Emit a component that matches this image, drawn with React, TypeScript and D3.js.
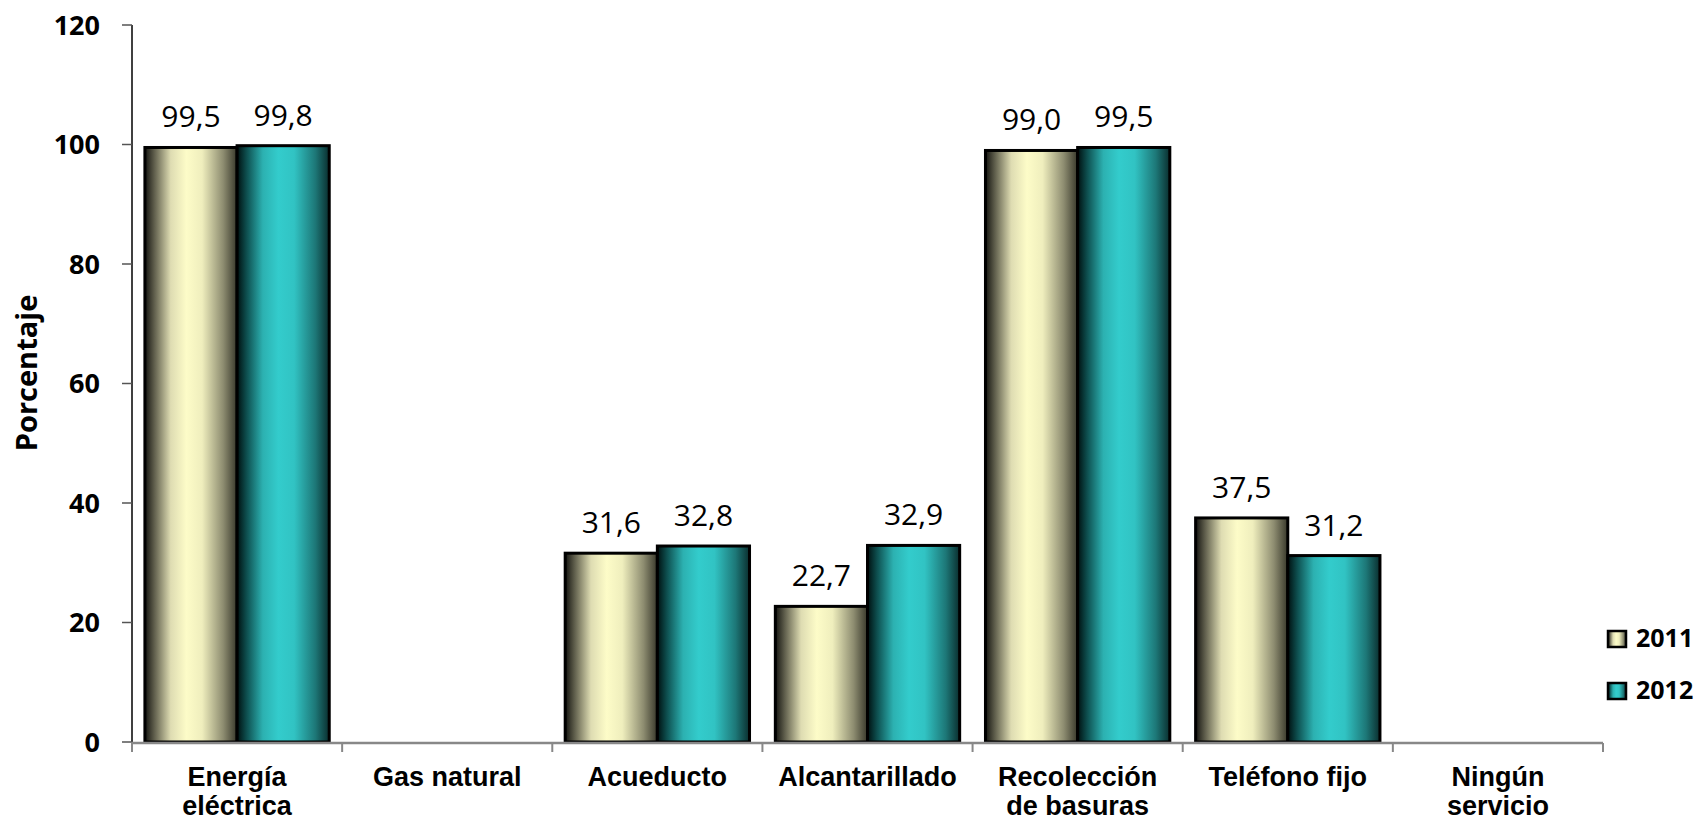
import React from "react";
import * as d3 from "d3";

const categories: string[][] = [
  ["Energía", "eléctrica"],
  ["Gas natural"],
  ["Acueducto"],
  ["Alcantarillado"],
  ["Recolección", "de basuras"],
  ["Teléfono fijo"],
  ["Ningún", "servicio"],
];
const seriesNames = ["2011", "2012"];
const values2011: (number | null)[] = [99.5, null, 31.6, 22.7, 99.0, 37.5, null];
const values2012: (number | null)[] = [99.8, null, 32.8, 32.9, 99.5, 31.2, null];
const yTicks = [0, 20, 40, 60, 80, 100, 120];

const W = 1702;
const H = 822;
const plotLeft = 132;
const plotRight = 1603;
const plotTop = 25;
const plotBottom = 742;

const grad2011 = [
  [0, "#141410"],
  [0.1, "#5e5d4b"],
  [0.28, "#dedcb2"],
  [0.45, "#fdfcc8"],
  [0.62, "#efeebd"],
  [0.85, "#8d8c70"],
  [1, "#38382b"],
];
const grad2012 = [
  [0, "#001010"],
  [0.1, "#0d4d4d"],
  [0.28, "#2cb1b1"],
  [0.45, "#33cccc"],
  [0.62, "#31c3c3"],
  [0.85, "#1d7777"],
  [1, "#0a2e2e"],
];

export default function App() {
  const keys = categories.map((c) => c.join(" "));
  const x = d3.scaleBand<string>().domain(keys).range([plotLeft, plotRight]).padding(0);
  const inner = d3
    .scaleBand<string>()
    .domain(seriesNames)
    .range([0, x.bandwidth()])
    .paddingInner(0)
    .paddingOuter(0.14);
  const y = d3.scaleLinear().domain([0, 120]).range([plotBottom, plotTop]);
  const series = [values2011, values2012];
  const fmt = (v: number) => v.toFixed(1).replace(".", ",");
  const grads = [grad2011, grad2012];

  return (
    <svg
      width={W}
      height={H}
      style={{ position: "absolute", left: 0, top: 0, background: "#fff" }}
    >
      <defs>
        {grads.map((g, i) => (
          <linearGradient key={i} id={`g${i}`} x1="0" x2="1" y1="0" y2="0">
            {g.map(([o, c], j) => (
              <stop key={j} offset={o as number} stopColor={c as string} />
            ))}
          </linearGradient>
        ))}
      </defs>

      {/* y axis */}
      <line x1={plotLeft} x2={plotLeft} y1={plotTop} y2={plotBottom} stroke="#000" strokeWidth={1.5} />
      {yTicks.map((t) => (
        <g key={t}>
          <line x1={plotLeft - 10} x2={plotLeft} y1={y(t)} y2={y(t)} stroke="#555" strokeWidth={1.5} />
          <text
            x={100}
            y={y(t)}
            dy="0.36em"
            textAnchor="end"
            fontFamily="Open Sans"
            fontWeight="bold"
            fontSize={27}
            fill="#000"
          >
            {t}
          </text>
        </g>
      ))}
      <text
        transform={`translate(37,373) rotate(-90)`}
        textAnchor="middle"
        fontFamily="Open Sans"
        fontWeight="bold"
        fontSize={29}
        fill="#000"
      >
        Porcentaje
      </text>

      {/* bars */}
      {keys.map((k, ci) =>
        series.map((vals, si) => {
          const v = vals[ci];
          if (v == null) return null;
          const bx = (x(k) as number) + (inner(seriesNames[si]) as number);
          const bw = inner.bandwidth();
          return (
            <g key={`${ci}-${si}`}>
              <rect
                x={bx}
                y={y(v)}
                width={bw}
                height={y(0) - y(v)}
                fill={`url(#g${si})`}
                stroke="#000"
                strokeWidth={3}
              />
              <text
                x={bx + bw / 2}
                y={y(v) - 20}
                textAnchor="middle"
                fontFamily="Open Sans"
                fontSize={30}
                fill="#000"
              >
                {fmt(v)}
              </text>
            </g>
          );
        })
      )}

      {/* x axis */}
      <line x1={plotLeft} x2={plotRight} y1={plotBottom + 1} y2={plotBottom + 1} stroke="#888" strokeWidth={2.5} />
      {keys.map((k) => (
        <line
          key={k}
          x1={x(k) as number}
          x2={x(k) as number}
          y1={plotBottom + 1}
          y2={plotBottom + 10}
          stroke="#888"
          strokeWidth={2}
        />
      ))}
      <line x1={plotRight} x2={plotRight} y1={plotBottom + 1} y2={plotBottom + 10} stroke="#888" strokeWidth={2} />
      {categories.map((lines, ci) => (
        <text
          key={ci}
          x={(x(keys[ci]) as number) + x.bandwidth() / 2}
          y={786}
          textAnchor="middle"
          fontFamily="Liberation Sans"
          fontWeight="bold"
          fontSize={27}
          fill="#000"
        >
          {lines.map((l, li) => (
            <tspan key={li} x={(x(keys[ci]) as number) + x.bandwidth() / 2} dy={li === 0 ? 0 : 29}>
              {l}
            </tspan>
          ))}
        </text>
      ))}

      {/* legend */}
      {seriesNames.map((s, i) => (
        <g key={s} transform={`translate(1608,${631 + i * 52})`}>
          <rect x={0} y={0} width={18} height={16} fill={`url(#g${i})`} stroke="#000" strokeWidth={2.5} />
          <text x={28} y={16} fontFamily="Open Sans" fontWeight="bold" fontSize={25} fill="#000">
            {s}
          </text>
        </g>
      ))}
    </svg>
  );
}
